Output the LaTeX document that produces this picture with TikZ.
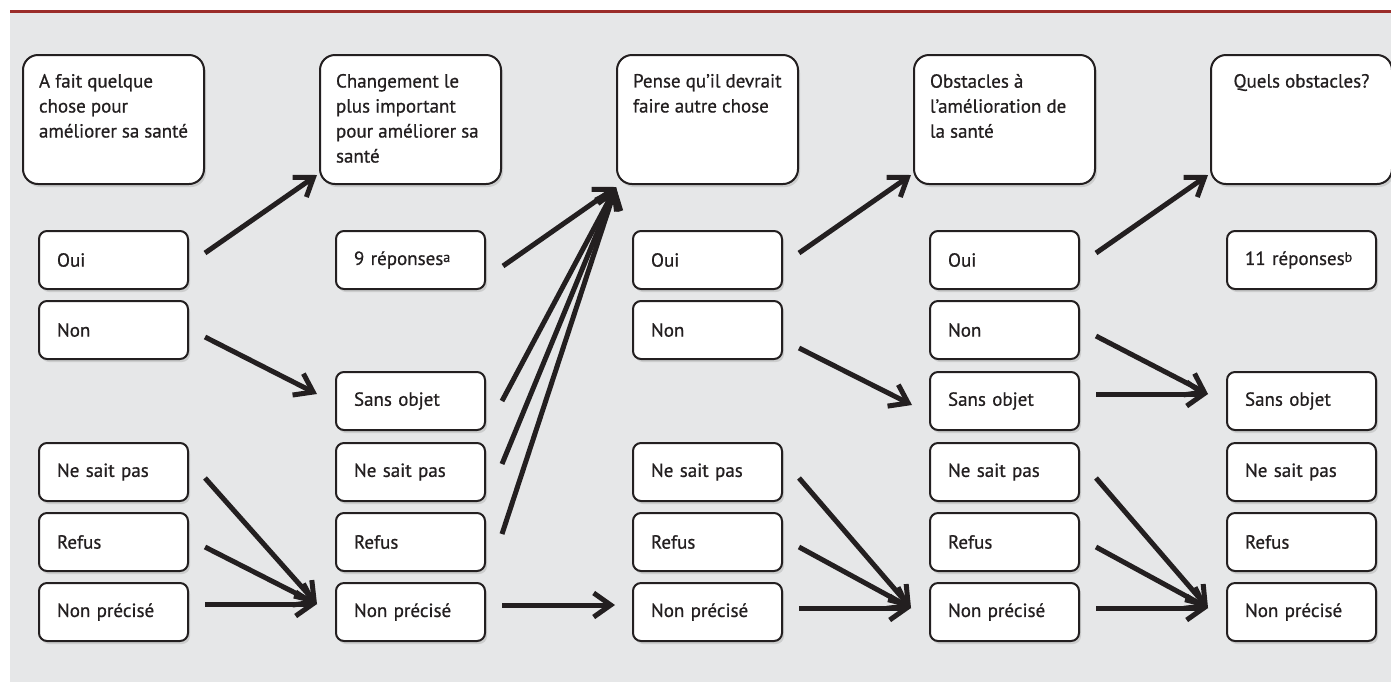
\documentclass[tikz,border=0pt]{standalone}
\usepackage{fontspec}
\setmainfont{PT Sans}[FakeBold=0.7]
\usetikzlibrary{arrows.meta,shadows}
\definecolor{bggrey}{RGB}{230,231,232}
\definecolor{rulered}{RGB}{155,45,42}
\definecolor{ink}{RGB}{35,31,32}
\newcommand{\hdrtext}[1]{\parbox[t][45.5pt][t]{74.5pt}{#1}}

\begin{document}
\begin{tikzpicture}[x=0.5pt,y=-0.5pt,
    font=\fontsize{9.5}{12.5}\selectfont,text=ink,
    box/.style={draw=ink,line width=1pt,fill=white,anchor=north west,
      drop shadow={shadow xshift=1pt,shadow yshift=-1.5pt,opacity=.25}},
    hdr/.style={box,rounded corners=7.5pt,minimum width=90.5pt,minimum height=64.5pt,
      inner xsep=8pt,inner ysep=9.5pt},
    ans/.style={box,rounded corners=4pt,minimum width=74.5pt,minimum height=29pt,
      inner xsep=9pt,inner ysep=0pt,text width=56.5pt,align=left},
    flow/.style={draw=ink,line width=2.5pt,-{Straight Barb[length=8.5pt,width=12pt]}},
  ]
  \useasboundingbox (0,0) rectangle (1391,682);
  \fill[bggrey] (10,13) rectangle (1391,682);
  \draw[rulered,line width=1.75pt] (10,11.5) -- (1391,11.5);

  % headers
  \node[hdr] (h1) at (22,54) {\hdrtext{A fait quelque\\chose pour\\améliorer sa santé}};
  \node[hdr] (h2) at (319,54) {\hdrtext{Changement le\\plus important\\pour améliorer sa\\santé}};
  \node[hdr] (h3) at (616,54) {\hdrtext{Pense qu’il devrait\\faire autre chose}};
  \node[hdr] (h4) at (913,54) {\hdrtext{Obstacles à\\l’amélioration de\\la santé}};
  \node[hdr] (h5) at (1210,54) {\hdrtext{\centering Quels obstacles?}};

  % column 1
  \node[ans] (oui1) at (38,230) {Oui};
  \node[ans] (non1) at (38,300) {Non};
  \node[ans] (nsp1) at (38,442) {Ne sait pas};
  \node[ans] (ref1) at (38,512) {Refus};
  \node[ans] (npr1) at (38,582) {Non précisé};

  % column 2
  \node[ans] (rep2) at (335,230) {9 réponses{\scriptsize\raisebox{1.5pt}{a}}};
  \node[ans] (so2) at (335,371) {Sans objet};
  \node[ans] (nsp2) at (335,442) {Ne sait pas};
  \node[ans] (ref2) at (335,512) {Refus};
  \node[ans] (npr2) at (335,582) {Non précisé};

  % column 3
  \node[ans] (oui3) at (632,230) {Oui};
  \node[ans] (non3) at (632,300) {Non};
  \node[ans] (nsp3) at (632,442) {Ne sait pas};
  \node[ans] (ref3) at (632,512) {Refus};
  \node[ans] (npr3) at (632,582) {Non précisé};

  % column 4
  \node[ans] (oui4) at (929,230) {Oui};
  \node[ans] (non4) at (929,300) {Non};
  \node[ans] (so4) at (929,371) {Sans objet};
  \node[ans] (nsp4) at (929,442) {Ne sait pas};
  \node[ans] (ref4) at (929,512) {Refus};
  \node[ans] (npr4) at (929,582) {Non précisé};

  % column 5
  \node[ans] (rep5) at (1226,230) {11 réponses{\scriptsize\raisebox{1.5pt}{b}}};
  \node[ans] (so5) at (1226,371) {Sans objet};
  \node[ans] (nsp5) at (1226,442) {Ne sait pas};
  \node[ans] (ref5) at (1226,512) {Refus};
  \node[ans] (npr5) at (1226,582) {Non précisé};

  % column 1 -> column 2
  \draw[flow] ([xshift=8pt,yshift=3.5pt]oui1.east) -- ([xshift=-1pt,yshift=5pt]h2.south west);
  \draw[flow] ([xshift=8pt,yshift=-3.5pt]non1.east) -- ([xshift=-9pt,yshift=3.5pt]so2.west);
  \draw[flow] ([xshift=8pt,yshift=-3pt]nsp1.east) -- ([xshift=-9pt,yshift=4pt]npr2.west);
  \draw[flow] ([xshift=8pt,yshift=-2.5pt]ref1.east) -- ([xshift=-9pt,yshift=4pt]npr2.west);
  \draw[flow] ([xshift=8pt,yshift=4pt]npr1.east) -- ([xshift=-9pt,yshift=4pt]npr2.west);

  % column 2 -> column 3
  \draw[flow] ([xshift=8.5pt,yshift=-3pt]rep2.east) -- ([yshift=-1pt]h3.south west);
  \draw[flow] ([xshift=8pt]so2.east) -- ([yshift=-1pt]h3.south west);
  \draw[flow] ([xshift=8pt,yshift=4pt]nsp2.east) -- ([yshift=-1pt]h3.south west);
  \draw[flow] ([xshift=8pt,yshift=4pt]ref2.east) -- ([yshift=-1pt]h3.south west);
  \draw[flow] ([xshift=8pt,yshift=3.5pt]npr2.east) -- ([xshift=-8.5pt,yshift=3.5pt]npr3.west);

  % column 3 -> column 4
  \draw[flow] ([xshift=8pt,yshift=3.5pt]oui3.east) -- ([xshift=-1pt,yshift=5pt]h4.south west);
  \draw[flow] ([xshift=8pt,yshift=-9pt]non3.east) -- ([xshift=-8.5pt,yshift=-2pt]so4.west);
  \draw[flow] ([xshift=8pt,yshift=-3pt]nsp3.east) -- ([xshift=-9pt,yshift=2pt]npr4.west);
  \draw[flow] ([xshift=8pt,yshift=-2.5pt]ref3.east) -- ([xshift=-9pt,yshift=2pt]npr4.west);
  \draw[flow] ([xshift=8pt,yshift=2pt]npr3.east) -- ([xshift=-9pt,yshift=2pt]npr4.west);

  % column 4 -> column 5
  \draw[flow] ([xshift=8pt,yshift=3.5pt]oui4.east) -- ([xshift=-1pt,yshift=5pt]h5.south west);
  \draw[flow] ([xshift=8pt,yshift=-3pt]non4.east) -- ([xshift=-9pt,yshift=3.5pt]so5.west);
  \draw[flow] ([xshift=8pt,yshift=3.5pt]so4.east) -- ([xshift=-9pt,yshift=3.5pt]so5.west);
  \draw[flow] ([xshift=8pt,yshift=-3pt]nsp4.east) -- ([xshift=-9pt,yshift=2pt]npr5.west);
  \draw[flow] ([xshift=8pt,yshift=-2.5pt]ref4.east) -- ([xshift=-9pt,yshift=2pt]npr5.west);
  \draw[flow] ([xshift=8pt,yshift=2pt]npr4.east) -- ([xshift=-9pt,yshift=2pt]npr5.west);
\end{tikzpicture}
\end{document}
